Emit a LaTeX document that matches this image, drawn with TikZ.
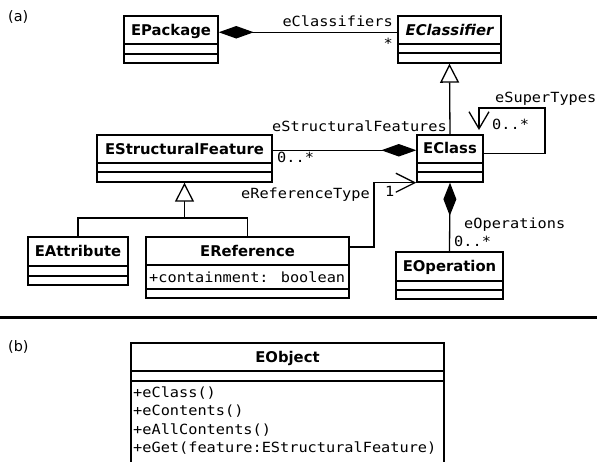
\documentclass[tikz,border=0pt]{standalone}
\usepackage{fontspec}
\setmainfont{DejaVu Sans}
\newfontfamily\umlmono[FakeStretch=1.09]{DejaVu Sans Mono}
\usetikzlibrary{arrows.meta,fit}

\tikzset{
  box/.style={draw, line width=1.4pt, inner sep=0pt},
  sepline/.style={line width=1.4pt},
  cname/.style={font=\fontsize{14.8}{16}\selectfont\bfseries, inner sep=0pt, anchor=base},
  lbl/.style={font=\umlmono\fontsize{14}{16}\selectfont, inner sep=0pt},
  conn/.style={line width=1.3pt},
  comp/.style={conn, {Diamond[length=35pt,width=12.5pt]}-},
  gen/.style={conn, -{Triangle[open,length=19pt,width=19pt,fill=white]}},
  nav/.style={conn, -{Straight Barb[length=19pt,width=19pt]}},
  panel/.style={font=\fontsize{14.4}{16}\selectfont, inner sep=0pt, anchor=base west},
}

% class box: name, x1, y1, x2, y2, first and second compartment lines
\newcommand\umlclass[7]{%
  \node[box, fit={(#2,#3) (#4,#5)}] (#1) {};
  \draw[sepline] (#2,#6) -- (#4,#6);
  \draw[sepline] (#2,#7) -- (#4,#7);
}

\begin{document}
\begin{tikzpicture}[x=1pt, y=-1pt]
\useasboundingbox (0,0) rectangle (597,461);
\fill[white] (0,0) rectangle (597,461);

% ---------- (a) the Ecore metamodel ----------
\node[panel] (lbla) at (8,21.5) {(a)};

\umlclass{epackage}{124}{16}{218}{63}{44}{54}
\node[cname] (epackage-t) at (171,35) {EPackage};

\umlclass{eclassifier}{398}{16}{501}{63}{44}{53}
\node[cname, font=\fontsize{14.8}{16}\selectfont\bfseries\itshape] (eclassifier-t) at (449.5,35) {EClassifier};

\umlclass{eclass}{417}{135}{483}{182}{163}{172}
\node[cname] (eclass-t) at (450,153) {EClass};

\umlclass{estructuralfeature}{97}{135}{272}{182}{163}{172}
\node[cname] (estructuralfeature-t) at (184.5,154) {EStructuralFeature};

\umlclass{eattribute}{28}{237}{128}{285}{266}{276}
\node[cname] (eattribute-t) at (78,256.5) {EAttribute};

\umlclass{ereference}{146}{237}{349}{298}{265}{289}
\node[cname] (ereference-t) at (247.5,256.5) {EReference};
\node[lbl, anchor=base west] (containment) at (149,282.5) {+containment: boolean};

\umlclass{eoperation}{396}{252}{503}{299}{281}{290}
\node[cname] (eoperation-t) at (449.5,271.5) {EOperation};

% EPackage <>-- EClassifier
\draw[comp] (epackage.east |- epackage-t.mid) -- (eclassifier.west |- epackage-t.mid);
\node[lbl, anchor=base east] (l-eclassifiers) at (393,26.5) {eClassifiers};
\node[lbl, anchor=base east] (m-eclassifiers) at (393,48) {*};

% EClass <>-- EStructuralFeature
\draw[comp] (eclass.west |- eclass-t.mid) -- (estructuralfeature.east |- eclass-t.mid);
\node[lbl, anchor=base east] (l-esf) at (447,131.5) {eStructuralFeatures};
\node[lbl, anchor=base west] (m-esf) at (277,162) {0..*};

% EClass specialises EClassifier
\draw[gen] (eclass.north) -- (eclassifier.south);

% EAttribute, EReference specialise EStructuralFeature
\coordinate (gjoin) at (estructuralfeature.south |- 0,218);
\draw[conn] (eattribute.north) |- (gjoin) -| (ereference.north);
\draw[gen] (gjoin) -- (estructuralfeature.south);

% eSuperTypes self association
\coordinate (stcorner) at (545,108);
\coordinate (sttip) at (479,130);
\draw[conn, -{Straight Barb[length=17pt,width=20pt]}] ([yshift=5pt]eclass.east) -| (stcorner) -| (sttip);
\node[lbl, anchor=base west] (l-est) at (495,102) {eSuperTypes};
\node[lbl, anchor=base west] (m-est) at (492,129) {0..*};

% EReference --> EClass
\coordinate (refbend) at (374,247);
\draw[nav] (ereference.east |- refbend) -- (refbend) |- (eclass.south west);
\node[lbl, anchor=base east] (l-ert) at (370,198.5) {eReferenceType};
\node[lbl, anchor=base west] (m-ert) at (385,196.7) {1};

% EClass <>-- EOperation
\draw[conn, {Diamond[length=33pt,width=13pt]}-] (eclass.south) -- (eoperation.north);
\node[lbl, anchor=base west] (l-eop) at (464,228) {eOperations};
\node[lbl, anchor=base west] (m-eop) at (454,246.5) {0..*};

% ---------- divider ----------
\coordinate (divl) at (0,317);
\coordinate (divr) at (597,317);
\draw[line width=3pt] (divl) -- (divr);

% ---------- (b) EObject ----------
\node[panel] (lblb) at (8,351.5) {(b)};
\begin{scope}
  \clip (0,0) rectangle (597,461);
  \umlclass{eobject}{131}{343}{444}{475}{371}{381}
\end{scope}
\node[cname] (eobject-t) at (287.5,362.5) {EObject};
\node[lbl, anchor=base west] (op1) at (133,397) {+eClass()};
\node[lbl, anchor=base west] (op2) at (133,415.6) {+eContents()};
\node[lbl, anchor=base west] (op3) at (133,434.2) {+eAllContents()};
\node[lbl, anchor=base west] (op4) at (133,452.8) {+eGet(feature:EStructuralFeature)};
\end{tikzpicture}
\end{document}
